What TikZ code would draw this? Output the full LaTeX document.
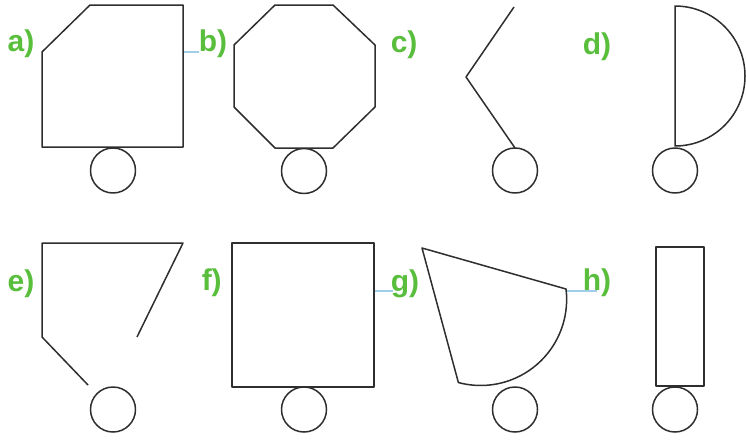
\documentclass[tikz,border=0pt]{standalone}
\usepackage{fontspec}
\setmainfont{Liberation Sans}
\usetikzlibrary{calc}
\definecolor{lblgreen}{RGB}{88,190,60}
\definecolor{tickblue}{RGB}{160,205,232}
\begin{document}
\begin{tikzpicture}[x = 1pt, y = -1pt, line width = 1.5pt, line join = round,
    lbl/.style = {text = lblgreen, font = \fontsize{30}{32}\selectfont\bfseries, anchor = base west, inner sep = 0pt},
    outline/.style = {draw = black!82},
    wheel/.style = {draw = black!82},
    tick/.style = {draw = tickblue, line width = 1.1pt}]
    \useasboundingbox (0,0) rectangle (746,439);
    % wheels
    \coordinate(Wa)at(113,170.5);
    \coordinate(Wb)at(304,171);
    \coordinate(Wc)at(515,170.5);
    \coordinate(Wd)at(675,170.5);
    \coordinate(We)at(113,409.5);
    \coordinate(Wf)at(304,409.5);
    \coordinate(Wg)at(515,409.5);
    \coordinate(Wh)at(675,409.5);
    \foreach \w in {Wa,Wb,Wc,Wd,We,Wf,Wg,Wh}
        \path[wheel](\w)circle(22.5);
    % labels
    \node[lbl](la)at(7,51){a)};
    \node[lbl](lb)at(198,51){b)};
    \node[lbl](lc)at(390,52){c)};
    \node[lbl](ld)at(582,54){d)};
    \node[lbl](le)at(7,291){e)};
    \node[lbl](lf)at(201,290){f)};
    \node[lbl](lg)at(390,291){g)};
    \node[lbl](lh)at(582,290){h)};
    % a) cut corner
    \path[outline](90,5)--(183,5)--(183,147)--(42,147)--(42,52)--cycle;
    \path[tick](183.5,52)to(199,52);
    % b) octagon
    \path[outline](275,5)--(333,5)--(375,45)--(375,107)--(333,148)--(275,148)--(234,107)--(234,45)--cycle;
    % c) bent line
    \path[outline](514,7)--(466,77)--(515,148);
    % d) half disc
    \path[outline](675,6)arc[start angle = -90, end angle = 90, radius = 70]--cycle;
    % e) open shape
    \path[outline](88,385)--(42,337)--(42,243)--(183,243)--(137,337);
    % f) square
    \path[outline](232,243)rectangle(374,387);
    \path[tick](374.5,291)to(393,291);
    % g) sector
    \coordinate(G1)at(422,248);
    \coordinate(G2)at(566,289);
    \path[outline](G1)--(G2)arc[start angle = -7, end angle = 105, radius = 86]--cycle;
    \path[tick](567,291)to(597,291);
    % h) tall box
    \path[outline](656,247)rectangle(704,386);
\end{tikzpicture}
\end{document}
